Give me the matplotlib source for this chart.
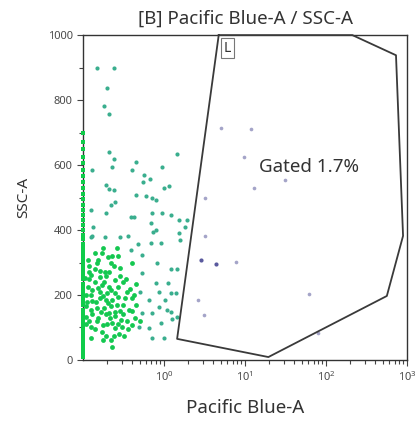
import matplotlib
matplotlib.use("Agg")
import matplotlib.pyplot as plt
from matplotlib.ticker import FixedLocator, MultipleLocator, LogLocator, NullFormatter

plt.rcParams['font.family'] = ['Noto Sans', 'DejaVu Sans']

# --- events (Pacific Blue-A, SSC-A)
sparse_x = [0.149, 0.244, 0.200, 0.183, 0.211, 0.211, 1.45, 0.244, 0.129, 0.230,
            0.447, 0.398, 0.944, 0.562, 0.546, 0.668, 0.194, 0.211, 0.244, 1.00,
            1.15, 0.447, 0.596, 0.708, 0.794, 0.251, 0.224, 0.126, 0.194, 0.387,
            0.422, 0.708, 0.944, 1.22, 1.54, 1.94, 0.133, 0.688, 0.794, 1.83,
            0.126, 0.188, 0.290, 1.54, 0.129, 0.355, 0.473, 0.688, 0.917, 1.58,
            0.729, 0.387, 0.531, 0.818, 1.22, 1.45, 0.531, 0.794, 1.12, 0.501,
            0.866, 1.22, 1.41, 0.649, 1.03, 0.866, 1.09, 1.22, 0.531, 0.708,
            0.917, 1.26, 1.45, 0.649, 0.708, 1.00, 0.487]
sparse_y = [898, 898, 837, 782, 757, 640, 634, 618, 585, 594,
            609, 585, 594, 569, 548, 557, 538, 526, 523, 529,
            535, 508, 505, 498, 492, 486, 477, 462, 452, 440,
            440, 452, 452, 446, 431, 431, 409, 422, 400, 409,
            378, 378, 378, 391, 382, 382, 357, 360, 360, 369,
            394, 338, 323, 298, 280, 280, 268, 237, 237, 209,
            209, 206, 206, 185, 185, 163, 154, 148, 145, 145,
            114, 126, 132, 98, 68, 68, 102]

dense_x = [0.178, 0.266, 0.230, 0.205, 0.154, 0.115, 0.398, 0.290, 0.188, 0.141,
           0.126, 0.163, 0.106, 0.251, 0.316, 0.447, 0.115, 0.154, 0.224, 0.345,
           0.126, 0.178, 0.274, 0.398, 0.112, 0.145, 0.205, 0.316, 0.447, 0.126,
           0.168, 0.251, 0.365, 0.109, 0.154, 0.217, 0.298, 0.398, 0.126, 0.178,
           0.251, 0.126, 0.178, 0.224, 0.230,
           0.12, 0.14, 0.17, 0.19, 0.21, 0.24, 0.13, 0.16, 0.20, 0.23,
           0.27, 0.11, 0.15, 0.19, 0.22, 0.26, 0.29, 0.33, 0.12, 0.14,
           0.17, 0.20, 0.23, 0.27, 0.31, 0.35, 0.13, 0.18, 0.21, 0.25,
           0.29, 0.34, 0.38, 0.42, 0.16, 0.11, 0.12, 0.15, 0.19, 0.24,
           0.28, 0.40, 0.44, 0.50, 0.36, 0.32, 0.17, 0.14, 0.22, 0.27,
           0.11, 0.13, 0.16, 0.18, 0.21, 0.25, 0.30, 0.12, 0.15, 0.19]
dense_y = [345, 345, 320, 317, 308, 308, 298, 283, 271, 280,
           262, 255, 252, 246, 240, 234, 225, 222, 215, 209,
           200, 197, 194, 191, 178, 178, 175, 169, 169, 154,
           148, 148, 154, 132, 129, 129, 123, 108, 102, 108,
           98, 68, 62, 62, 40,
           290, 240, 230, 260, 270, 290, 215, 190, 205, 185,
           225, 165, 160, 140, 165, 170, 150, 190, 120, 95,
           85, 110, 115, 110, 140, 120, 140, 160, 225, 205,
           260, 250, 220, 200, 275, 200, 250, 120, 75, 75,
           80, 150, 130, 120, 95, 75, 330, 330, 300, 320,
           110, 180, 210, 240, 145, 135, 100, 270, 300, 185]

# events piled up on the left edge of the scale
edge_y = [10, 20, 30, 40, 52, 62, 75, 85, 98, 110, 120, 132, 145, 155, 168, 178,
          190, 200, 212, 225, 235, 248, 258, 270, 282, 295, 308, 320, 333, 345,
          358, 372, 385, 400, 415, 430, 445, 462, 478, 495, 512, 530, 548, 565,
          585, 605, 625, 648, 672, 700]

gated_x = [5.01, 11.9, 9.72, 30.7, 13.0, 3.16, 3.16, 7.72, 2.59, 3.07, 61.3, 79.0]
gated_y = [714, 711, 625, 554, 529, 498, 382, 302, 185, 138, 203, 83]
gated_dark_x = [2.90, 4.34]
gated_dark_y = [308, 295]

# gate "L" vertices
gate_x = [4.73, 1.45, 19.4, 562, 891, 729, 211, 4.73]
gate_y = [1000, 65, 9, 197, 382, 938, 1000, 1000]

fig = plt.figure(figsize=(4.15, 4.23), dpi=100)
ax = fig.add_axes([0.2, 0.149, 0.781, 0.768])

ax.scatter([0.1] * len(edge_y), edge_y, s=8, marker='s', color='#10cc4a',
           linewidths=0, clip_on=False, zorder=3)
ax.scatter(sparse_x, sparse_y, s=9, color='#3aae8e', linewidths=0, zorder=2)
ax.scatter(dense_x, dense_y, s=12, color='#14c850', linewidths=0, zorder=2)
ax.scatter(gated_x, gated_y, s=7, color='#a4a4c8', linewidths=0, zorder=2)
ax.scatter(gated_dark_x, gated_dark_y, s=9, color='#5a5a9e', linewidths=0, zorder=2)

ax.plot(gate_x, gate_y, color='#3a3a3a', lw=1.3, zorder=4, clip_on=False)
ax.text(6.1, 960, 'L', fontsize=10, ha='center', va='center', color='#333333',
        bbox=dict(boxstyle='square,pad=0.2', fc='white', ec='#777777', lw=0.8))
ax.text(62, 594, 'Gated 1.7%', fontsize=13.5, ha='center', va='center',
        color='#333333')

ax.set_xscale('log')
ax.set_xlim(0.1, 1000)
ax.set_ylim(0, 1000)
ax.xaxis.set_major_locator(FixedLocator([1, 10, 100, 1000]))
ax.xaxis.set_minor_locator(LogLocator(base=10, subs=range(2, 10)))
ax.xaxis.set_minor_formatter(NullFormatter())
ax.yaxis.set_major_locator(MultipleLocator(200))
ax.yaxis.set_minor_locator(MultipleLocator(100))

ax.tick_params(which='both', direction='out', color='#444444', labelsize=8,
               labelcolor='#4a4a4a', width=0.8)
ax.tick_params(which='major', length=4)
ax.tick_params(which='minor', length=3)
for sp in ax.spines.values():
    sp.set_color('#333333')
    sp.set_linewidth(1.0)

ax.set_title('[B] Pacific Blue-A / SSC-A', fontsize=13.5, color='#333333', pad=8)
ax.set_xlabel('Pacific Blue-A', fontsize=13.5, color='#333333', labelpad=11)
ax.set_ylabel('SSC-A', fontsize=11, color='#333333', labelpad=12)

fig.savefig('out.png', dpi=100, facecolor='white')
